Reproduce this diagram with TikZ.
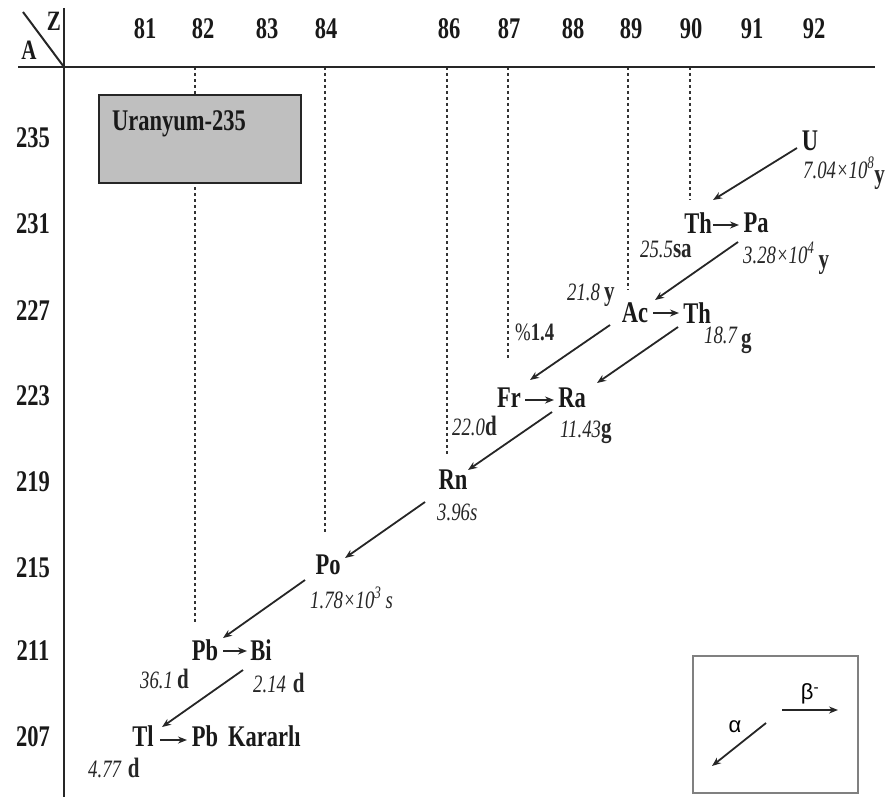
\documentclass[tikz,border=0pt]{standalone}
\usepackage{fontspec}
\setmainfont{Liberation Serif}[FakeStretch=0.75]
\newfontfamily\legendfont{Liberation Sans}
\usetikzlibrary{arrows.meta,calc}
\newcommand\hlnum[1]{{\itshape #1}}
\newcommand\hlunit[1]{{\fontsize{28}{28}\selectfont\bfseries #1}}
\begin{document}
\begin{tikzpicture}[x=1pt,y=-1pt,
  elem/.style={font=\fontsize{30}{30}\selectfont\bfseries, inner sep=0pt, text=black!90},
  axnum/.style={font=\fontsize{30}{30}\selectfont\bfseries, inner sep=0pt, text=black!90},
  hl/.style={font=\fontsize{25}{25}\selectfont, inner sep=0pt, anchor=base west, text=black!85},
  decay/.style={line width=1.8pt, draw=black!85, -{Stealth[length=9pt,width=7pt]}},
  guide/.style={line width=1.3pt, dash pattern=on 3pt off 3pt, draw=black!80},
  axis/.style={line width=2.6pt, draw=black!85},
  legarrow/.style={line width=1.8pt, draw=black!85, -{Stealth[length=9pt,width=7pt]}}]
\useasboundingbox (0,0) rectangle (893,797);
% guide lines
\draw[guide] (195,67) -- (195,623);
\draw[guide] (325,67) -- (325,532);
\draw[guide] (447,67) -- (447,455);
\draw[guide] (508,67) -- (508,358);
\draw[guide] (628,67) -- (628,290);
\draw[guide] (690,67) -- (690,200);
% axes
\draw[axis] (18,67) -- (875,67);
\draw[axis] (64,8) -- (64,797);
\draw[line width=2pt, draw=black!85] (23,12) -- (64,67);
\node[axnum, font=\fontsize{28}{28}\selectfont\bfseries] (zlab) at (54,21) {Z};
\node[axnum, font=\fontsize{28}{28}\selectfont\bfseries] (alab) at (29,50) {A};
% Z labels
\foreach \z/\x in {81/145,82/203,83/267,84/326,86/449,87/509,88/573,89/631,90/691,91/752,92/814}
  \node[axnum] (z\z) at (\x,29) {\z};
% A labels
\foreach \a/\y in {235/138,231/224,227/311,223/396,219/482,215/568,211/651,207/737}
  \node[axnum] (a\a) at (33,\y) {\a};
% Uranium box
\node[draw=black!85, line width=1.6pt, fill=black!25, minimum width=202pt, minimum height=88pt, inner sep=0pt] (box) at (200,139) {};
\node[elem, anchor=base west] (boxtxt) at (112,131) {Uranyum-235};
% elements
\node[elem] (U) at (810,141) {U};
\node[elem] (Th1) at (698,223) {Th};
\node[elem] (Pa) at (756,223) {Pa};
\node[elem] (Ac) at (635,313) {Ac};
\node[elem] (Th2) at (697,313) {Th};
\node[elem] (Fr) at (509,398) {Fr};
\node[elem] (Ra) at (572,398) {Ra};
\node[elem] (Rn) at (453,480) {Rn};
\node[elem] (Po) at (328,565) {Po};
\node[elem] (Pb1) at (205,650) {Pb};
\node[elem] (Bi) at (261,650) {Bi};
\node[elem] (Tl) at (143,736) {Tl};
\node[elem] (Pb2) at (205,736) {Pb};
\node[elem, anchor=west] (stable) at (228,736) {Kararlı};
% half-lives
\node[hl] (hU) at (803,178) {\hlnum{7.04×10\textsuperscript{8}}\raisebox{-5pt}{\hlunit{y}}};
\node[hl] (hTh1) at (640,257) {\hlnum{25.5}\hlunit{sa}};
\node[hl] (hPa) at (743,263) {\hlnum{3.28×10\textsuperscript{4}}\,\raisebox{-5pt}{\hlunit{y}}};
\node[hl] (hAc) at (567,300) {\hlnum{21.8}\,\hlunit{y}};
\node[hl] (br) at (515,340) {\%\textbf{1.4}};
\node[hl] (hTh2) at (704,343) {\hlnum{18.7}\,\raisebox{-4pt}{\hlunit{g}}};
\node[hl] (hFr) at (452,435) {\hlnum{22.0}\hlunit{d}};
\node[hl] (hRa) at (560,437) {\hlnum{11.43}\hlunit{g}};
\node[hl] (hRn) at (437,520) {\hlnum{3.96s}};
\node[hl] (hPo) at (310,608) {\hlnum{1.78×10\textsuperscript{3}\,s}};
\node[hl] (hPb1) at (140,688) {\hlnum{36.1}\,\hlunit{d}};
\node[hl] (hBi) at (253,692) {\hlnum{2.14}\;\hlunit{d}};
\node[hl] (hTl) at (88,777) {\hlnum{4.77}\;\hlunit{d}};
% decays
\draw[decay] ([shift={(-13,7)}]U.center) -- ([shift={(15,-23)}]Th1.center);
\draw[decay] ([shift={(15,2)}]Th1.center) -- ([shift={(-17,2)}]Pa.center);
\draw[decay] ([shift={(-18,19)}]Pa.center) -- ([shift={(20,-13)}]Ac.center);
\draw[decay] ([shift={(18,0)}]Ac.center) -- ([shift={(-18,0)}]Th2.center);
\draw[decay] ([shift={(-25,12)}]Ac.center) -- ([shift={(21,-18)}]Fr.center);
\draw[decay] ([shift={(-19,14)}]Th2.center) -- ([shift={(25,-15)}]Ra.center);
\draw[decay] ([shift={(16,2)}]Fr.center) -- ([shift={(-18,2)}]Ra.center);
\draw[decay] ([shift={(-20,14)}]Ra.center) -- ([shift={(15,-10)}]Rn.center);
\draw[decay] ([shift={(-28,22)}]Rn.center) -- ([shift={(17,-7)}]Po.center);
\draw[decay] ([shift={(-23,15)}]Po.center) -- ([shift={(18,-12)}]Pb1.center);
\draw[decay] ([shift={(18,1)}]Pb1.center) -- ([shift={(-14,1)}]Bi.center);
\draw[decay] ([shift={(-18,20)}]Bi.center) -- ([shift={(19,-9)}]Tl.center);
\draw[decay] ([shift={(17,4)}]Tl.center) -- ([shift={(-18,4)}]Pb2.center);
% legend
\node[draw=black!50, line width=1.6pt, minimum width=165pt, minimum height=137pt, inner sep=0pt] (legend) at (775.5,724.5) {};
\coordinate (la1) at (766,723);
\coordinate (la2) at (712,766);
\coordinate (lb1) at (782,710);
\coordinate (lb2) at (838,710);
\draw[legarrow] (la1) -- (la2);
\draw[legarrow] (lb1) -- (lb2);
\node[inner sep=0pt, font=\legendfont\fontsize{22}{22}\selectfont] (alpha) at (735,727) {α};
\node[inner sep=0pt, font=\legendfont\fontsize{22}{22}\selectfont] (beta) at (810,694) {β\textsuperscript{-}};
\end{tikzpicture}
\end{document}
